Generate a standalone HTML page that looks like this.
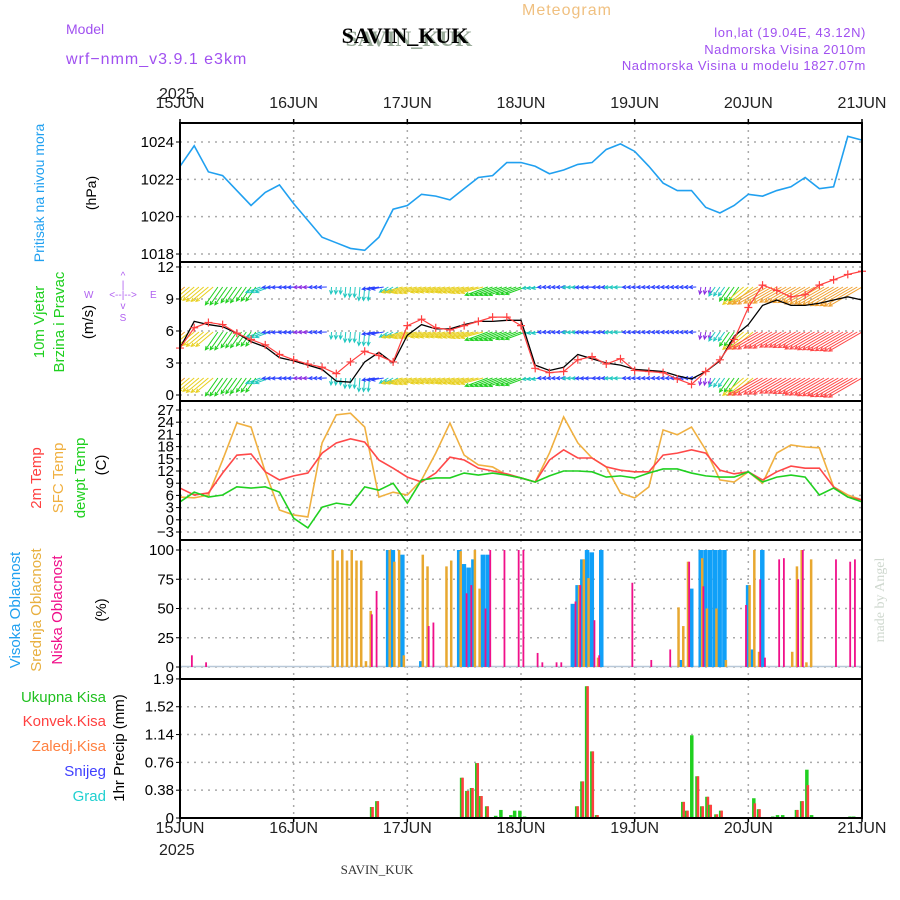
<!DOCTYPE html>
<html><head><meta charset="utf-8"><style>
html,body{margin:0;padding:0;background:#fff;}
svg{display:block;font-family:"Liberation Sans",sans-serif;}
</style></head><body>
<svg id="chart" width="900" height="900" viewBox="0 0 900 900" xmlns="http://www.w3.org/2000/svg">
<defs><clipPath id="clipWind"><rect x="180" y="262" width="682" height="139"/></clipPath></defs>
<rect x="0" y="0" width="900" height="900" fill="#fff"/>
<g id="header">
<text x="66" y="34" font-size="14" fill="#a050f0">Model</text>
<text x="66" y="64" font-size="16" fill="#a050f0" letter-spacing="1">wrf−nmm_v3.9.1 e3km</text>
<text x="522" y="15" font-size="16" fill="#f0c080" letter-spacing="1">Meteogram</text>
<text x="407" y="44" font-size="22" font-weight="bold" font-family="Liberation Serif, serif" fill="#9a9" text-anchor="middle" transform="translate(2,2)">SAVIN_KUK</text>
<text x="405" y="43" font-size="22" font-weight="bold" font-family="Liberation Serif, serif" fill="#000" text-anchor="middle">SAVIN_KUK</text>
<text x="866" y="37" font-size="13" fill="#a050f0" text-anchor="end" letter-spacing="0.6">lon,lat (19.04E, 43.12N)</text>
<text x="866" y="54" font-size="13" fill="#a050f0" text-anchor="end" letter-spacing="0.6">Nadmorska Visina 2010m</text>
<text x="866" y="70" font-size="13" fill="#a050f0" text-anchor="end" letter-spacing="0.6">Nadmorska Visina u modelu 1827.07m</text>
<text x="159" y="99" font-size="16" fill="#222">2025</text>
<text x="159" y="855" font-size="16" fill="#222">2025</text>
<text x="377" y="874" font-size="13" font-family="Liberation Serif, serif" fill="#333" text-anchor="middle">SAVIN_KUK</text>
<text x="0" y="0" font-size="14" font-family="Liberation Serif, serif" fill="#cfd8cf" transform="translate(884,600) rotate(-90)" text-anchor="middle">made by Angel</text>
</g>
<g id="labels">
<text transform="translate(44,193) rotate(-90)" font-size="14" fill="#20a0f0" text-anchor="middle">Pritisak na nivou mora</text>
<text transform="translate(96,193) rotate(-90)" font-size="14" fill="#000" text-anchor="middle">(hPa)</text>
<text transform="translate(44,322) rotate(-90)" font-size="15" fill="#20d020" text-anchor="middle">10m Vjetar</text>
<text transform="translate(64,322) rotate(-90)" font-size="15" fill="#20d020" text-anchor="middle">Brzina i Pravac</text>
<text transform="translate(93,322) rotate(-90)" font-size="15" fill="#000" text-anchor="middle">(m/s)</text>
<g fill="#b060f0" font-size="10">
<text x="84" y="298">W</text><text x="150" y="298">E</text>
<text x="123" y="298" text-anchor="middle">&lt;--|--&gt;</text>
<text x="123" y="279" text-anchor="middle">^</text><text x="123" y="288" text-anchor="middle">|</text>
<text x="123" y="309" text-anchor="middle">v</text><text x="123" y="321" text-anchor="middle">S</text>
</g>
<text transform="translate(41,478) rotate(-90)" font-size="15" fill="#ff4040" text-anchor="middle">2m Temp</text>
<text transform="translate(63,478) rotate(-90)" font-size="15" fill="#f0b040" text-anchor="middle">SFC Temp</text>
<text transform="translate(85,478) rotate(-90)" font-size="15" fill="#20d020" text-anchor="middle">dewpt Temp</text>
<text transform="translate(106,465) rotate(-90)" font-size="15" fill="#000" text-anchor="middle">(C)</text>
<text transform="translate(20,610) rotate(-90)" font-size="15" fill="#20a0f0" text-anchor="middle">Visoka Oblacnost</text>
<text transform="translate(41,610) rotate(-90)" font-size="15" fill="#e8b040" text-anchor="middle">Srednja Oblacnost</text>
<text transform="translate(62,610) rotate(-90)" font-size="15" fill="#f0108a" text-anchor="middle">Niska Oblacnost</text>
<text transform="translate(106,610) rotate(-90)" font-size="15" fill="#000" text-anchor="middle">(%)</text>
<text x="106" y="702" font-size="15" fill="#20c020" text-anchor="end">Ukupna Kisa</text>
<text x="106" y="726" font-size="15" fill="#ff4040" text-anchor="end">Konvek.Kisa</text>
<text x="106" y="751" font-size="15" fill="#ff8040" text-anchor="end">Zaledj.Kisa</text>
<text x="106" y="776" font-size="15" fill="#4040ff" text-anchor="end">Snijeg</text>
<text x="106" y="801" font-size="15" fill="#20d0d0" text-anchor="end">Grad</text>
<text transform="translate(124,748) rotate(-90)" font-size="15" fill="#000" text-anchor="middle">1hr Precip (mm)</text>
</g>
<g id="plot"></g>
</svg>
<script>
// ---------- data (3-hourly from 15JUN 00 to 21JUN 00) ----------
const dayLabels = ["15JUN","16JUN","17JUN","18JUN","19JUN","20JUN","21JUN"];
const pressure = [1022.7,1023.8,1022.4,1022.2,1021.4,1020.6,1021.3,1021.7,1020.7,1019.8,1018.9,1018.6,1018.3,1018.2,1018.9,1020.4,1020.6,1021.2,1021.1,1020.9,1021.5,1022.1,1022.2,1022.9,1022.9,1022.7,1022.3,1022.5,1022.8,1022.9,1023.6,1023.9,1023.5,1022.7,1021.8,1021.4,1021.4,1020.5,1020.2,1020.6,1021.2,1021.1,1021.4,1021.6,1022.1,1021.5,1021.6,1024.3,1024.1];
const windSpeed = [4.4,6.3,6.8,6.6,5.8,5.2,4.7,3.8,3.3,2.9,2.6,2.0,3.1,4.1,3.7,3.1,6.5,7.1,6.3,6.1,6.5,6.9,7.3,7.3,6.5,2.5,2.1,2.2,3.3,3.6,2.9,3.4,2.3,2.2,2.1,1.5,1.0,2.2,3.3,5.2,8.2,10.3,9.8,9.2,9.4,10.3,10.8,11.3,11.6];
const windSpeed2 = [4.4,6.9,6.6,6.4,5.8,5.0,4.5,3.5,3.2,2.8,2.4,1.3,1.2,3.1,4.0,3.0,5.6,6.6,6.2,6.2,6.6,6.9,6.9,7.0,7.0,2.8,2.3,2.6,3.8,3.4,3.0,2.8,2.4,2.3,2.2,1.8,1.5,2.2,3.2,5.5,6.6,8.4,8.9,8.4,8.4,8.6,8.9,9.2,8.9];
const windDir = [140,140,140,125,125,125,160,178,178,178,178,95,95,95,170,150,165,165,165,165,165,165,160,160,160,170,178,178,178,178,178,178,178,178,178,178,178,100,125,125,140,150,150,150,150,150,150,150,150];
const windColorIdx = [5,4,4,3,3,3,2,1,1,0,1,2,2,2,1,2,4,4,4,4,4,4,3,3,3,2,1,1,2,1,1,2,1,1,1,1,1,0,2,3,4,6,6,6,6,6,6,6,6];
const temp2m = [7.8,6.1,6.6,11.5,15.9,16.2,11.8,9.8,10.8,11.5,16.4,18.9,19.9,19.1,14.7,12.7,10.5,9.3,11.5,15.4,14.7,12.7,12.0,11.3,10.3,9.3,14.7,17.2,15.2,15.2,13.0,12.2,11.8,11.8,15.9,16.4,17.2,16.4,12.2,11.3,11.8,9.8,11.8,13.2,12.7,12.7,8.1,5.6,4.9];
const tempSfc = [5.6,5.4,6.1,14.7,23.8,22.8,11.8,2.4,1.2,0.7,18.9,25.8,26.2,22.8,5.6,6.8,6.1,9.8,16.4,23.8,15.9,13.5,13.0,11.0,10.3,9.3,16.4,25.3,18.9,15.2,13.0,6.6,5.4,8.1,22.1,20.9,22.8,17.2,9.8,9.3,11.8,9.0,16.4,18.4,17.9,17.7,8.1,6.1,4.9];
const tempDew = [4.4,6.8,5.6,6.1,8.1,7.8,8.1,6.8,0.4,-2.0,3.1,4.1,3.6,8.1,7.3,9.0,4.1,9.8,10.3,10.3,11.5,11.0,11.5,11.0,10.3,9.3,10.8,12.0,12.0,11.8,10.5,10.8,10.3,11.5,12.5,12.5,11.5,10.8,10.5,10.5,11.8,9.3,10.5,11.0,10.5,6.1,7.8,5.6,4.4];
// cloud cover (hour since 15JUN00, percent)
const highHours = [44,45,47,51,59,60,61,62,64,65,83,84,85,86,87,89,106,108,110,111,112,113,114,115,120,121,123];
const highVals  = [100,100,96,5,100,88,85,92,96,96,54,70,92,100,98,100,6,67,100,100,100,100,100,100,70,15,100];
const midHours = [32,33,34,35,36,37,38,39,40,44,45,46,47,51,52,56,57,59,62,63,84,85,86,88,105,106,107,110,111,113,115,120,121,122,129,130,131,132,133];
const midVals  = [100,91,100,91,100,91,91,5,48,100,90,100,10,96,86,86,91,99,100,67,70,92,76,8,51,35,90,93,50,50,6,70,100,13,13,86,100,4,92];
const lowHours = [2,5,40,41,52,53,60,61,64,65,68,71,72,75,76,79,80,83,84,87,88,95,99,103,107,110,119,122,123,126,127,130,131,138,141,142];
const lowVals  = [10,4,45,65,35,38,63,70,50,100,100,100,100,12,4,4,4,56,70,40,10,72,6,15,90,69,53,75,8,92,93,75,100,92,90,92];
// precipitation (hour, total mm, convective mm)
const rainHours = [40.3,41.4,59.3,60.4,61.4,62.5,63.3,64.6,66.5,67.6,69.7,70.5,71.6,72.6,83.6,84.7,85.7,86.8,87.8,106,106.8,107.9,109,110,111.1,111.7,113,114,121,122,125,126,127.1,130,131.1,132.2,133.2,141.3,142.1];
const rainTotal = [0.15,0.23,0.55,0.37,0.41,0.75,0.30,0.16,0.03,0.11,0.04,0.10,0.10,0.02,0.16,0.50,1.80,0.91,0.04,0.22,0.10,1.13,0.57,0.16,0.29,0.18,0.05,0.10,0.27,0.12,0.02,0.04,0.04,0.11,0.23,0.66,0.04,0.02,0.02];
const rainConv  = [0.15,0.23,0.55,0.37,0.41,0.75,0.30,0.16,0,0,0,0,0,0,0.16,0.50,1.80,0.91,0.04,0.22,0.10,0,0.57,0.16,0.29,0.18,0.05,0.10,0.20,0.12,0,0,0,0.11,0.23,0.45,0,0,0];
const pTicks = [1018,1020,1022,1024];
const wTicks = [0,3,6,9,12];
const tTicks = [-3,0,3,6,9,12,15,18,21,24,27];
const cTicks = [0,25,50,75,100];
const rTicks = [0,0.38,0.76,1.14,1.52,1.9];

// ---------- layout ----------
const NS = "http://www.w3.org/2000/svg";
const L = 180, R = 862;
const X = h => L + h * (R - L) / 144;
const yP = v => 142 + (1024 - v) * 18.67;
const yW = v => 395 - v * 10.67;
const yT = v => 410 + (27 - v) * 4.067;
const yC = v => 667 - v * 1.17;
const yR = v => 818 - v * 73.2;
const panels = [[123,262,pTicks,yP],[262,401,wTicks,yW],[401,540,tTicks,yT],[540,679,cTicks,yC],[679,818,rTicks,yR]];
const plot = document.getElementById("plot");
function el(tag, attrs, parent) {
  const e = document.createElementNS(NS, tag);
  for (const k in attrs) e.setAttribute(k, attrs[k]);
  (parent || plot).appendChild(e);
  return e;
}
const windColors = ["#8a2be2","#2a40ff","#20c8c0","#20d020","#e8d020","#f0a030","#ff4848"];

// grid
panels.forEach((p, pi) => {
  const g = el("g", {});
  
  
  p[2].forEach(t => {
    const y = p[3](t);
    if (y > p[0] + 2 && y < p[1] - 2) {
      const ln = el("line", {x1:L, x2:R, y1:y, y2:y, stroke:"#aaa", "stroke-width":1.5, "stroke-dasharray":"2,5"}, g);
      
      
    }
    const tk = el("line", {x1:L-4, x2:L, y1:y, y2:y, stroke:"#000", "stroke-width":1}, g);
    
    
    const lab = el("text", {x:L-6, y:y+5, "font-size":15, "text-anchor":"end", fill:"#000"}, g);
    lab.textContent = t < 0 ? "−" + Math.abs(t) : String(t);
    
    
  });
  for (let d = 1; d < 6; d++) {
    const vl = el("line", {x1:X(d*24), x2:X(d*24), y1:p[0], y2:p[1], stroke:"#aaa", "stroke-width":1.5, "stroke-dasharray":"2,5"}, g);
    
    
  }
});

// x labels
dayLabels.forEach((d, i) => {
  [[108, 119, 123], [833, 818, 822]].forEach(a => {
    const t = el("text", {x:X(i*24), y:a[0], "font-size":16, "text-anchor":"middle", fill:"#222"});
    t.textContent = d;
    
    
    const tk = el("line", {x1:X(i*24), x2:X(i*24), y1:a[1], y2:a[2], stroke:"#000", "stroke-width":1.5});
    
    
  });
});

// pressure line
const pPath = el("path", {d: pressure.map((v,i)=>(i?"L":"M")+X(i*3)+","+yP(v)).join(""), fill:"none", stroke:"#20a0f0", "stroke-width":1.6});



// wind arrows
const rowY = [287, 332, 378];
const wg = el("g", {"stroke-width":1, "clip-path":"url(#clipWind)"});


rowY.forEach((ry, ri) => {
  windSpeed.forEach((s, i) => {
    for (let j = -1; j <= 1; j++) {
      if ((i === 0 && j < 0) || (i === windSpeed.length - 1 && j > 0)) continue;
      const x0 = X(i*3 + j);
      const len = Math.max(7, s * 3.3);
      const a = windDir[i] * Math.PI / 180;
      const x1 = x0 + len * Math.cos(a), y1 = ry + len * Math.sin(a);
      let ci = windColorIdx[i];
      if (ri === 0 && ci === 6) ci = 5;
      const c = windColors[ci];
      const h1 = a + Math.PI - 0.45, h2 = a + Math.PI + 0.45;
      const ar = el("path", {d:`M${x0},${ry}L${x1},${y1}M${x1+4*Math.cos(h1)},${y1+4*Math.sin(h1)}L${x1},${y1}L${x1+4*Math.cos(h2)},${y1+4*Math.sin(h2)}`, stroke:c, fill:"none"}, wg);
      
      
    }
  });
});
// wind speed lines
const w2 = el("path", {d: windSpeed2.map((v,i)=>(i?"L":"M")+X(i*3)+","+yW(v)).join(""), fill:"none", stroke:"#000", "stroke-width":1.3});


const w1 = el("path", {d: windSpeed.map((v,i)=>(i?"L":"M")+X(i*3)+","+yW(v)).join(""), fill:"none", stroke:"#ff4040", "stroke-width":1.2});


windSpeed.forEach((v,i) => {
  const x = X(i*3), y = yW(v);
  const m = el("path", {d:`M${x-4},${y}H${x+4}M${x},${y-4}V${y+4}`, stroke:"#ff4040", "stroke-width":1.2});
  
  
});

// temperature lines
[[tempSfc,"#f0b040","sfc-temp-line"],[temp2m,"#ff4848","temp-2m-line"],[tempDew,"#20d020","dewpoint-line"]].forEach(s => {
  const p = el("path", {d: s[0].map((v,i)=>(i?"L":"M")+X(i*3)+","+yT(v)).join(""), fill:"none", stroke:s[1], "stroke-width":1.6});
  
  
});

// cloud bars
const cl0 = el("line", {x1:L, x2:R, y1:yC(0)-0.5, y2:yC(0)-0.5, stroke:"#b8c8d8", "stroke-width":1.5});


[[highHours,highVals,"#10a0f8",4.5,-2.5,"cloud-high-bar"],[midHours,midVals,"#e8a830",2.5,0,"cloud-mid-bar"],[lowHours,lowVals,"#f0108a",1.8,1.5,"cloud-low-bar"]].forEach(s => {
  s[0].forEach((h,i) => {
    const v = s[1][i];
    const r = el("rect", {x:X(h)+s[4], y:yC(v), width:s[3], height:yC(0)-yC(v), fill:s[2]});
    
    
  });
});

// precipitation bars
rainHours.forEach((h,i) => {
  const x = X(h);
  const g = el("rect", {x:x-1, y:yR(rainTotal[i]), width:3.5, height:yR(0)-yR(rainTotal[i]), fill:"#20d020"});
  
  
  if (rainConv[i] > 0) {
    const r = el("rect", {x:x+0.5, y:yR(rainConv[i]), width:2.5, height:yR(0)-yR(rainConv[i]), fill:"#ff4040"});
    
    
  }
});

// frames
panels.forEach((p, pi) => {
  const f = el("rect", {x:L, y:p[0], width:R-L, height:p[1]-p[0], fill:"none", stroke:"#000", "stroke-width":2});
  
  
});
</script>
</body></html>
